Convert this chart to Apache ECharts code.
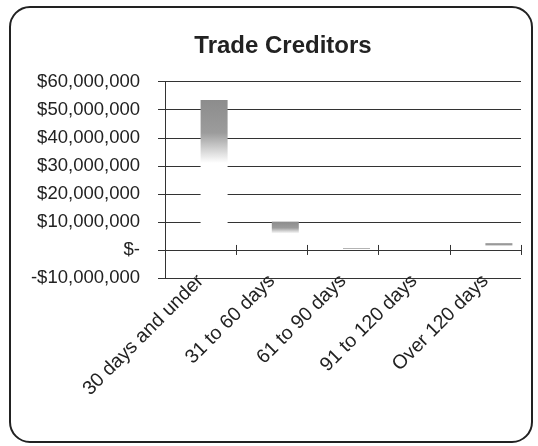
<!DOCTYPE html>
<html>
<head>
<meta charset="utf-8">
<script src="https://cdn.jsdelivr.net/npm/echarts@6/dist/echarts.min.js"></script>
<style>
  html, body { margin: 0; padding: 0; background: #fff; }
  #chart { width: 538px; height: 446px; }
</style>
</head>
<body>
<div id="chart"></div>
<script>
// Ageing buckets for trade creditors
const categories = ['30 days and under', '31 to 60 days', '61 to 90 days', '91 to 120 days', 'Over 120 days'];
// Amounts owed in each bucket (dollars)
const creditorValues = [53500000, 10100000, 600000, 0, 2400000];
// Empty companion series that reserves the left half of each slot
const companionValues = [null, null, null, null, null];
// Value axis ticks and their labels
const tickValues = [-10000000, 0, 10000000, 20000000, 30000000, 40000000, 50000000, 60000000];
const tickLabels = ['-$10,000,000', '$-', '$10,000,000', '$20,000,000', '$30,000,000', '$40,000,000', '$50,000,000', '$60,000,000'];

const FONT = "'Liberation Sans', Arial, sans-serif";
const INK = '#222';
const LINE = '#333';

const chart = echarts.init(document.getElementById('chart'), null, { renderer: 'canvas' });

const barFill = new echarts.graphic.LinearGradient(0, 0, 0, 1, [
  { offset: 0, color: '#8c8c8c' },
  { offset: 0.22, color: '#9c9c9c' },
  { offset: 0.42, color: '#ffffff' },
  { offset: 1, color: '#ffffff' }
]);

chart.setOption({
  animation: false,
  backgroundColor: '#fff',
  title: {
    text: 'Trade Creditors',
    left: 278,
    top: 29,
    textAlign: 'center',
    textStyle: { fontFamily: FONT, fontSize: 24, fontWeight: 'bold', color: INK }
  },
  graphic: [{
    type: 'rect',
    shape: { x: 10, y: 7, width: 522, height: 435, r: 20 },
    style: { fill: null, stroke: '#222', lineWidth: 2 },
    silent: true
  }],
  grid: { left: 165, right: 17, top: 81.7, bottom: 168, containLabel: false },
  xAxis: [
    {
      // category labels along the bottom of the plot
      type: 'category',
      data: categories,
      position: 'bottom',
      boundaryGap: true,
      axisLine: { show: false, onZero: false },
      axisTick: { show: false },
      axisLabel: {
        rotate: 45, margin: 0, interval: 0,
        fontFamily: FONT, fontSize: 19.5, color: INK
      },
      splitLine: { show: false }
    },
    {
      // zero line with downward ticks
      type: 'category',
      data: categories,
      boundaryGap: true,
      axisLine: { show: true, onZero: true, onZeroAxisIndex: 0, lineStyle: { color: LINE, width: 1 } },
      axisTick: { show: true, interval: 0, inside: false, length: 5, lineStyle: { color: LINE, width: 1 } },
      axisLabel: { show: false },
      splitLine: { show: false }
    },
    {
      // upward half of the crossing ticks
      type: 'category',
      data: categories,
      boundaryGap: true,
      axisLine: { show: false, onZero: true, onZeroAxisIndex: 0 },
      axisTick: { show: true, interval: 0, inside: true, length: 5, lineStyle: { color: LINE, width: 1 } },
      axisLabel: { show: false },
      splitLine: { show: false }
    }
  ],
  yAxis: {
    type: 'value',
    min: tickValues[0],
    max: tickValues[tickValues.length - 1],
    interval: 10000000,
    axisLine: { show: true, lineStyle: { color: LINE, width: 1 } },
    axisTick: { show: true, length: 7, lineStyle: { color: LINE, width: 1 } },
    axisLabel: {
      margin: 25,
      fontFamily: FONT, fontSize: 18.5, color: INK,
      formatter: function (v) {
        const i = tickValues.indexOf(v);
        return i >= 0 ? tickLabels[i] : '';
      }
    },
    splitLine: { show: true, lineStyle: { color: LINE, width: 1 } }
  },
  series: [
    {
      name: 'Companion',
      type: 'bar',
      xAxisIndex: 0,
      data: companionValues,
      barWidth: 27,
      barGap: '0%',
      itemStyle: { color: '#fff' },
      z: 3
    },
    {
      name: 'Trade Creditors',
      type: 'bar',
      xAxisIndex: 0,
      data: creditorValues,
      barWidth: 27,
      barGap: '0%',
      itemStyle: { color: barFill },
      z: 3
    }
  ]
});
</script>
</body>
</html>
